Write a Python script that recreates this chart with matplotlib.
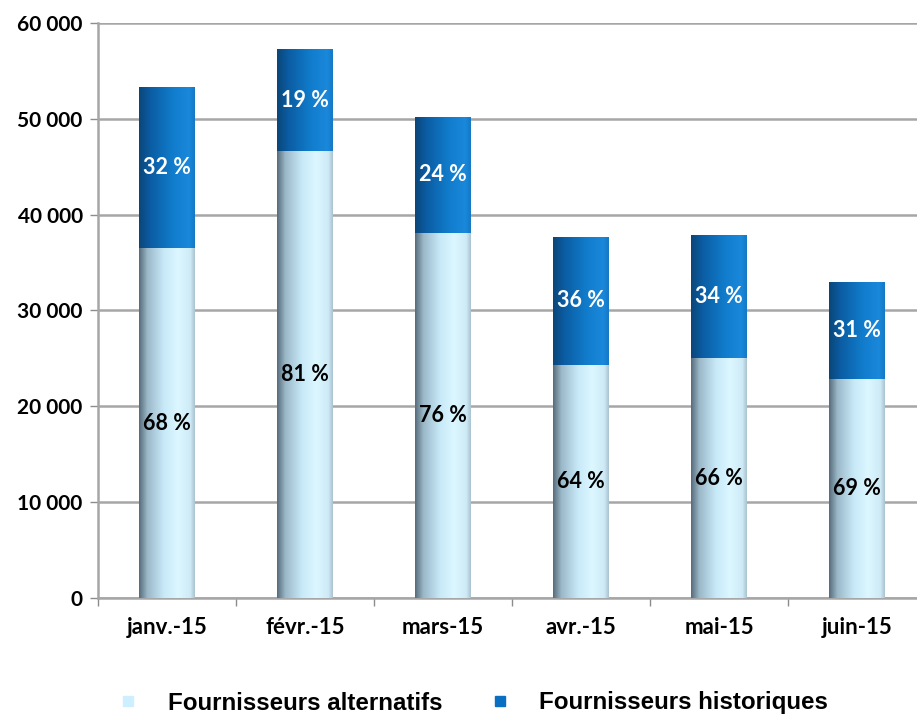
import numpy as np
import matplotlib.pyplot as plt
from matplotlib.colors import LinearSegmentedColormap
from matplotlib.lines import Line2D
from matplotlib.ticker import FuncFormatter, FixedLocator

months = ['janv.-15', 'févr.-15', 'mars-15', 'avr.-15', 'mai-15', 'juin-15']
alternatifs = [36500, 46600, 38100, 24300, 25000, 22800]
historiques = [16800, 10700, 12100, 13400, 12900, 10200]
pct_alt = ['68 %', '81 %', '76 %', '64 %', '66 %', '69 %']
pct_hist = ['32 %', '19 %', '24 %', '36 %', '34 %', '31 %']
series_names = ['Fournisseurs alternatifs', 'Fournisseurs historiques']

light_cmap = LinearSegmentedColormap.from_list(
    'light', [(0, '#566b7a'), (0.15, '#9bb8c9'), (0.45, '#c8e9f8'),
              (0.7, '#dcf7ff'), (0.92, '#cdeaf6'), (1, '#a9c3cf')])
dark_cmap = LinearSegmentedColormap.from_list(
    'dark', [(0, '#0a4678'), (0.2, '#0b5ca2'), (0.6, '#117ccc'),
             (0.9, '#1a88db'), (1, '#1578c4')])

fig = plt.figure(figsize=(9.17, 7.16), dpi=100)
ax = fig.add_axes([98 / 917, 1 - 598 / 716, 1 - 98 / 917, (598 - 23) / 716])

x = np.arange(len(months))
width = 0.4
grad = np.linspace(0, 1, 256).reshape(1, -1)


def gradient_bars(bars, cmap):
    for b in bars:
        x0, y0 = b.get_x(), b.get_y()
        w, h = b.get_width(), b.get_height()
        b.set_facecolor('none')
        b.set_edgecolor('none')
        im = ax.imshow(grad, cmap=cmap, aspect='auto', extent=(x0, x0 + w, y0, y0 + h),
                       zorder=3, interpolation='bilinear')
        im.set_clip_path(b)


b1 = ax.bar(x, alternatifs, width, zorder=3)
b2 = ax.bar(x, historiques, width, bottom=alternatifs, zorder=3)
gradient_bars(b1, light_cmap)
gradient_bars(b2, dark_cmap)

for i in range(len(months)):
    ax.text(x[i], alternatifs[i] / 2, pct_alt[i], ha='center', va='center',
            fontsize=15.5, fontweight='bold', family='Lato', color='black', zorder=5)
    ax.text(x[i], alternatifs[i] + historiques[i] / 2, pct_hist[i], ha='center', va='center',
            fontsize=15.5, fontweight='bold', family='Lato', color='white', zorder=5)

ax.set_xlim(-0.5, 5.5 - 9 / 138)
ax.set_ylim(0, 60000)
ax.set_yticks(range(0, 60001, 10000))
ax.yaxis.set_major_formatter(FuncFormatter(lambda v, p: f'{int(v):,}'.replace(',', ' ')))
ax.grid(axis='y', color='#a6a6a6', linewidth=1.8, zorder=0)
ax.set_axisbelow(True)

ax.set_xticks(x)
ax.set_xticklabels(months)
ax.xaxis.set_minor_locator(FixedLocator(np.arange(-0.5, 6, 1)))
ax.tick_params(axis='x', which='major', length=0, pad=14)
ax.tick_params(axis='x', which='minor', length=6, color='#8c8c8c', width=1)
ax.tick_params(axis='y', length=6, color='#8c8c8c', width=1, pad=5)
for lbl in ax.get_xticklabels():
    lbl.set_fontsize(16)
    lbl.set_fontweight('bold')
    lbl.set_family('Lato')
for lbl in ax.get_yticklabels():
    lbl.set_fontsize(15)
    lbl.set_fontweight('bold')
    lbl.set_family('Lato')

for s in ['top', 'right']:
    ax.spines[s].set_visible(False)
ax.spines['left'].set_color('#a6a6a6')
ax.spines['left'].set_linewidth(1.8)
ax.spines['bottom'].set_color('#a6a6a6')
ax.spines['bottom'].set_linewidth(1.8)

handles = [Line2D([], [], marker='s', linestyle='none', markersize=7, color='#cdefff'),
           Line2D([], [], marker='s', linestyle='none', markersize=7, color='#0a6fc2')]
fig.legend(handles, series_names, loc='center', bbox_to_anchor=(0.515, 1 - 703 / 716),
           ncol=2, frameon=False, handlelength=1.0, handletextpad=1.15, columnspacing=1.85,
           prop={'family': 'Liberation Sans', 'weight': 'bold', 'size': 17.4})

fig.savefig('out.png', dpi=100)
